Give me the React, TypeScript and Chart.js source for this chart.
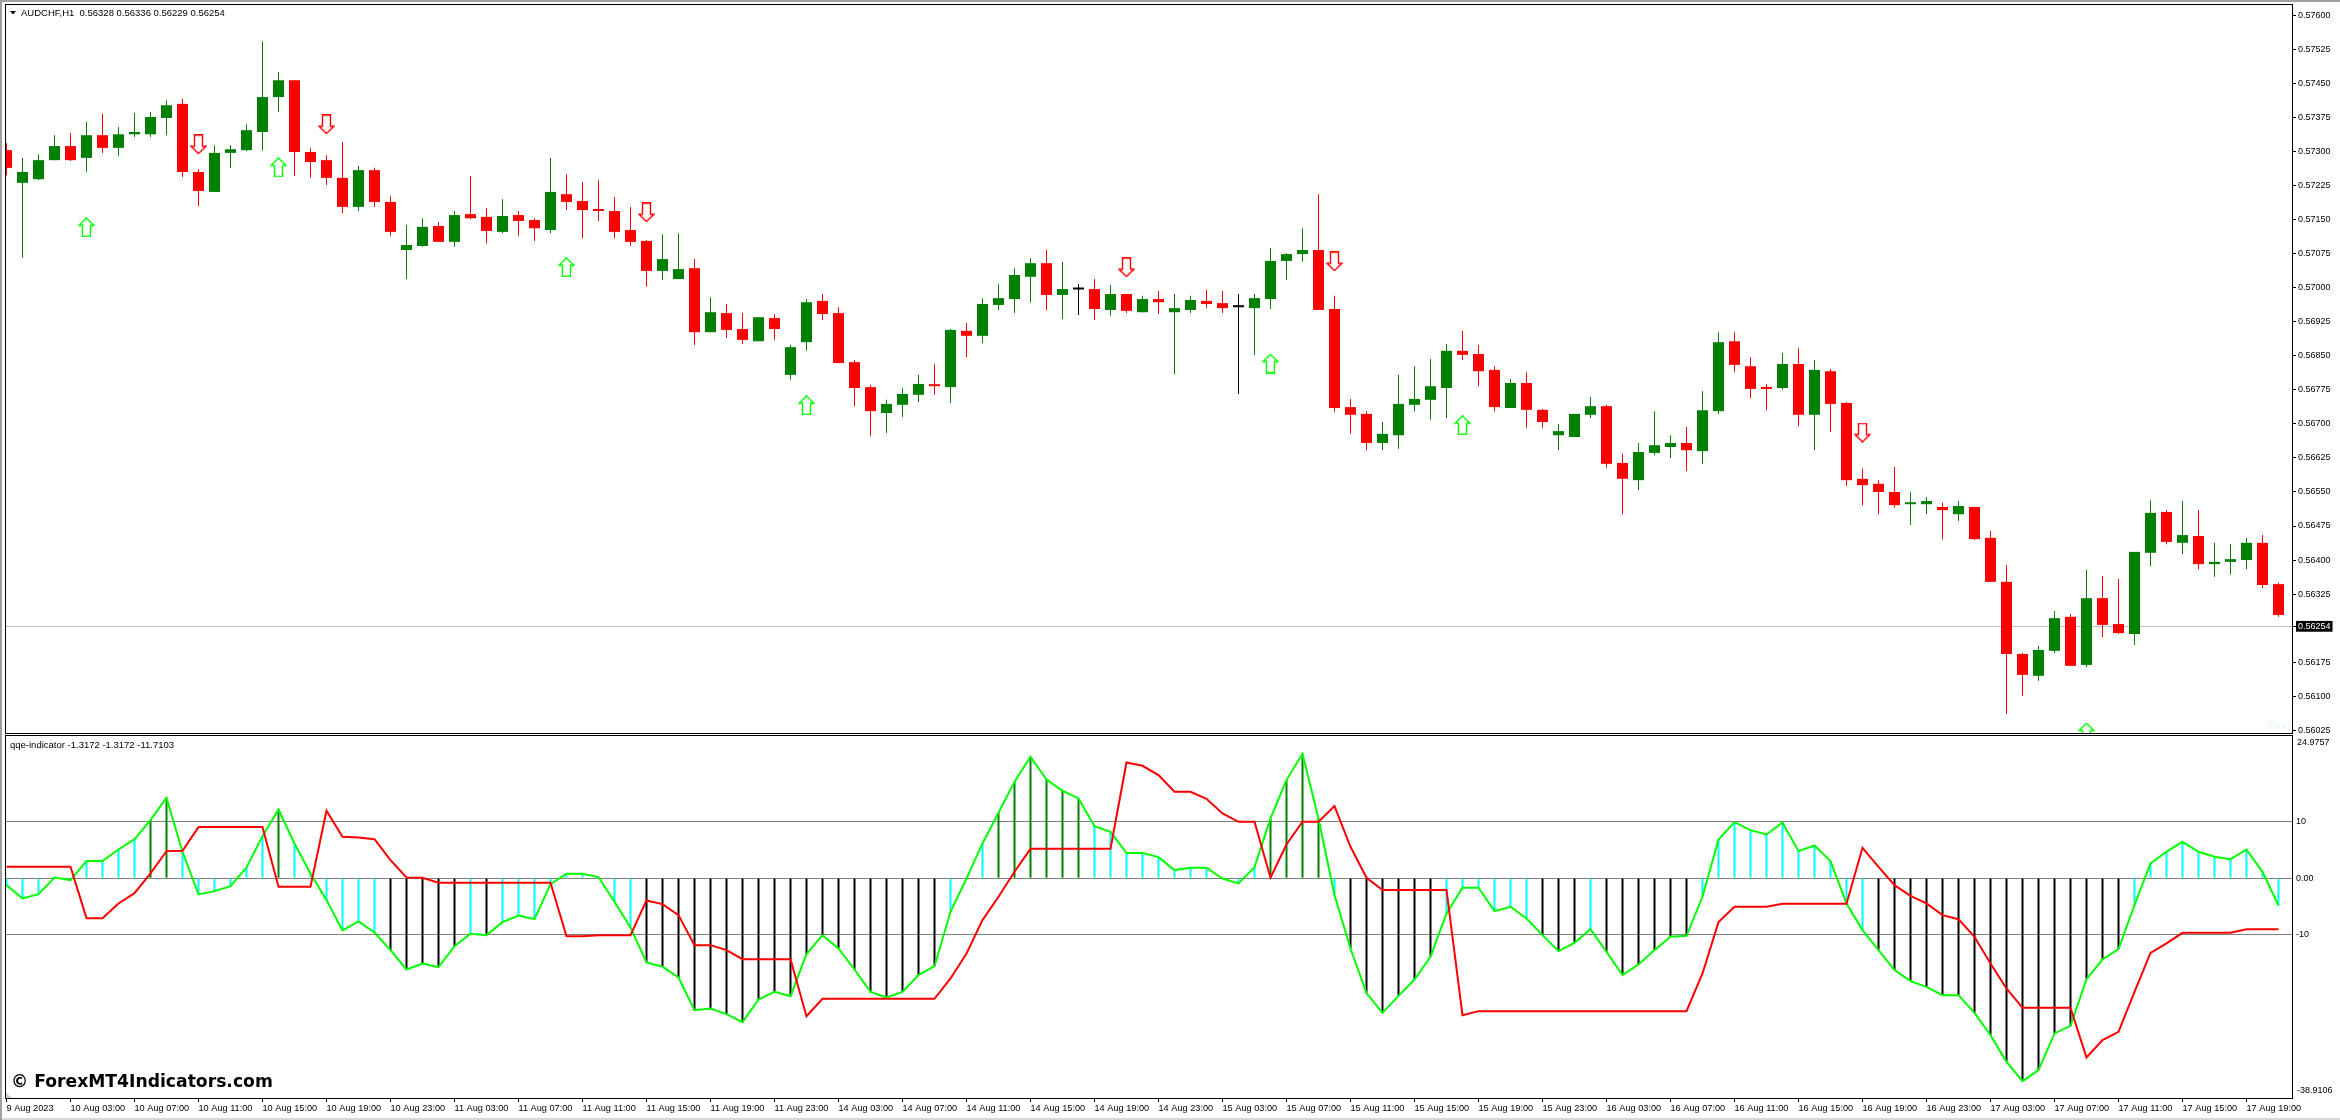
import { useEffect, useRef } from "react"
import { Chart, registerables } from "chart.js"

Chart.register(...registerables)

// AUDCHF H1 candles, one entry per bar
const open = [
  0.57303, 0.57231, 0.57239, 0.57281, 0.57312, 0.57286, 0.57336, 0.57308, 0.57338, 0.57338,
  0.57374, 0.57405, 0.57255, 0.57211, 0.57297, 0.57303, 0.57343, 0.5742, 0.57457, 0.57299,
  0.57281, 0.57242, 0.57178, 0.57259, 0.57189, 0.57083, 0.57092, 0.57136, 0.57101, 0.57162,
  0.57156, 0.57123, 0.5716, 0.57149, 0.57127, 0.57206, 0.57191, 0.57171, 0.57169, 0.57127,
  0.57103, 0.57037, 0.57019, 0.57043, 0.56902, 0.56944, 0.56909, 0.56882, 0.56933, 0.56808,
  0.5688, 0.56971, 0.56944, 0.56836, 0.56781, 0.56724, 0.56742, 0.56764, 0.56786, 0.56781,
  0.56905, 0.56894, 0.56962, 0.56975, 0.57024, 0.57054, 0.56984, 0.56996, 0.56997, 0.56951,
  0.56986, 0.56946, 0.56975, 0.56946, 0.56951, 0.56971, 0.56966, 0.56957, 0.56955, 0.56975,
  0.57059, 0.57074, 0.57083, 0.56953, 0.56737, 0.56722, 0.56658, 0.56675, 0.56742, 0.56753,
  0.56779, 0.56861, 0.56854, 0.56819, 0.56735, 0.5679, 0.56731, 0.56675, 0.56671, 0.5672,
  0.56739, 0.56614, 0.56576, 0.56636, 0.56649, 0.56658, 0.5664, 0.56728, 0.56882, 0.56827,
  0.56781, 0.56779, 0.56832, 0.5672, 0.56816, 0.56746, 0.56579, 0.56568, 0.5655, 0.56523,
  0.56523, 0.56517, 0.56501, 0.56517, 0.56449, 0.56352, 0.56193, 0.56145, 0.562, 0.56275,
  0.56169, 0.56316, 0.56259, 0.56237, 0.56416, 0.56506, 0.56438, 0.56453, 0.56391, 0.56396,
  0.564, 0.56438, 0.56347,
]
const high = [
  0.57318, 0.57286, 0.57294, 0.57336, 0.57341, 0.57365, 0.57383, 0.57354, 0.57385, 0.57387,
  0.57413, 0.57416, 0.57261, 0.57314, 0.57314, 0.5736, 0.57543, 0.57475, 0.57457, 0.57308,
  0.57292, 0.57321, 0.57268, 0.57264, 0.57202, 0.57138, 0.57153, 0.57145, 0.57169, 0.57246,
  0.57175, 0.57195, 0.57169, 0.57153, 0.57286, 0.5725, 0.57233, 0.57237, 0.572, 0.57178,
  0.57105, 0.57118, 0.5712, 0.57063, 0.56979, 0.56964, 0.56944, 0.56935, 0.56942, 0.56874,
  0.56975, 0.56986, 0.56957, 0.56841, 0.56786, 0.56753, 0.56779, 0.56808, 0.56832, 0.56909,
  0.56922, 0.56977, 0.57008, 0.57043, 0.57065, 0.57083, 0.57057, 0.57008, 0.57019, 0.57006,
  0.56986, 0.56982, 0.56993, 0.56986, 0.56982, 0.56995, 0.56993, 0.56986, 0.56986, 0.57087,
  0.57076, 0.57131, 0.57206, 0.56982, 0.56755, 0.56728, 0.56704, 0.56808, 0.56827, 0.56843,
  0.56876, 0.56905, 0.56874, 0.56827, 0.56799, 0.56814, 0.56733, 0.567, 0.56722, 0.56759,
  0.56742, 0.56634, 0.56658, 0.56728, 0.56675, 0.56693, 0.56772, 0.56902, 0.56902, 0.56847,
  0.56788, 0.56856, 0.56867, 0.56841, 0.56821, 0.56748, 0.56601, 0.56576, 0.56605, 0.5655,
  0.56539, 0.56526, 0.5653, 0.56517, 0.56464, 0.56389, 0.56195, 0.56211, 0.56288, 0.56281,
  0.56378, 0.56365, 0.56358, 0.56418, 0.56532, 0.5651, 0.5653, 0.5651, 0.56438, 0.56435,
  0.56449, 0.56455, 0.5635,
]
const low = [
  0.57248, 0.57066, 0.57237, 0.57281, 0.57279, 0.57255, 0.57297, 0.5729, 0.57332, 0.57332,
  0.57336, 0.57244, 0.5718, 0.57211, 0.57264, 0.57301, 0.57303, 0.57387, 0.57246, 0.57242,
  0.57226, 0.57164, 0.57169, 0.57178, 0.57114, 0.57019, 0.5709, 0.57101, 0.5709, 0.57151,
  0.57098, 0.5712, 0.57114, 0.57103, 0.5712, 0.57171, 0.57109, 0.57147, 0.57109, 0.57092,
  0.57002, 0.57017, 0.57019, 0.56874, 0.56902, 0.56889, 0.56876, 0.56882, 0.56885, 0.56797,
  0.56861, 0.56929, 0.56834, 0.56739, 0.56673, 0.5668, 0.56715, 0.56748, 0.56764, 0.56746,
  0.56847, 0.56878, 0.56951, 0.56944, 0.56968, 0.56951, 0.56931, 0.5694, 0.56929, 0.56938,
  0.56944, 0.56946, 0.56942, 0.5681, 0.56944, 0.56955, 0.56944, 0.56766, 0.56852, 0.56953,
  0.57017, 0.57057, 0.56951, 0.56726, 0.56678, 0.56642, 0.56642, 0.56645, 0.56728, 0.56709,
  0.56713, 0.56841, 0.56783, 0.56728, 0.56735, 0.56691, 0.56691, 0.56642, 0.56671, 0.56713,
  0.56603, 0.56501, 0.56554, 0.56631, 0.56625, 0.56596, 0.56612, 0.56722, 0.56814, 0.56757,
  0.5673, 0.56775, 0.56695, 0.56642, 0.56682, 0.56563, 0.56521, 0.56501, 0.56515, 0.56477,
  0.56501, 0.56446, 0.56486, 0.56444, 0.56352, 0.56061, 0.56101, 0.56134, 0.56195, 0.56167,
  0.56164, 0.5623, 0.56237, 0.56213, 0.56387, 0.56435, 0.56413, 0.5638, 0.56363, 0.56369,
  0.5638, 0.56338, 0.56275,
]
const close = [
  0.57264, 0.57255, 0.57281, 0.57312, 0.57281, 0.57336, 0.57308, 0.57338, 0.57343, 0.57376,
  0.57402, 0.57255, 0.57213, 0.57297, 0.57305, 0.57347, 0.5742, 0.57457, 0.57299, 0.57277,
  0.57242, 0.57178, 0.57259, 0.57189, 0.57123, 0.57094, 0.57134, 0.57101, 0.5716, 0.57153,
  0.57125, 0.57158, 0.57147, 0.57131, 0.57211, 0.57189, 0.57171, 0.57169, 0.57123, 0.57101,
  0.57037, 0.57063, 0.57041, 0.56902, 0.56946, 0.56907, 0.56885, 0.56935, 0.56909, 0.56869,
  0.56968, 0.56942, 0.56834, 0.56779, 0.56728, 0.56744, 0.56766, 0.56788, 0.56783, 0.56907,
  0.56894, 0.56964, 0.56977, 0.57028, 0.57054, 0.56984, 0.56997, 0.56996, 0.56953, 0.56986,
  0.56949, 0.56975, 0.56968, 0.56955, 0.56973, 0.56964, 0.56955, 0.56957, 0.56977, 0.57059,
  0.57074, 0.57083, 0.56951, 0.56735, 0.5672, 0.56658, 0.56678, 0.56744, 0.56755, 0.56783,
  0.56861, 0.56852, 0.56816, 0.56737, 0.5679, 0.56731, 0.56704, 0.56684, 0.56722, 0.56739,
  0.56612, 0.56579, 0.56638, 0.56653, 0.56658, 0.56642, 0.5673, 0.5688, 0.5683, 0.56777,
  0.56777, 0.56832, 0.5672, 0.56819, 0.56744, 0.56576, 0.56565, 0.5655, 0.56521, 0.56526,
  0.5653, 0.5651, 0.56519, 0.56446, 0.56352, 0.56193, 0.56147, 0.56202, 0.56272, 0.56167,
  0.56316, 0.56257, 0.56239, 0.56418, 0.56504, 0.5644, 0.56455, 0.56391, 0.56396, 0.56402,
  0.56438, 0.56345, 0.56279,
]

// Signal arrows: bar index and price
const upArrowBars = [5, 17, 35, 50, 79, 91, 130]
const upArrowPrices = [0.57133, 0.57265, 0.57045, 0.56741, 0.56833, 0.56697, 0.5602]
const downArrowBars = [12, 20, 40, 70, 83, 116]
const downArrowPrices = [0.57316, 0.5736, 0.57166, 0.57045, 0.57058, 0.56681]

// QQE pane
const fastLine = [
  -1.24, -3.6, -2.83, 0.12, -0.35, 3.01, 3.01, 5.07, 6.9, 10.27,
  14.22, 4.66, -2.89, -2.3, -1.42, 1.89, 7.43, 12.15, 6.14, 0.83,
  -3.89, -9.26, -7.67, -9.62, -12.74, -16.17, -15.1, -15.75, -12.04, -9.85,
  -10.09, -7.79, -6.61, -7.26, -1.06, 0.77, 0.77, 0.18, -4.19, -8.73,
  -14.93, -15.69, -17.58, -23.36, -23.07, -24.07, -25.49, -21.48, -20.12, -20.89,
  -13.45, -10.09, -12.45, -16.17, -20.12, -21.12, -20.12, -17.17, -15.58, -5.96,
  -0.06, 6.14, 11.56, 17.05, 21.48, 17.46, 15.46, 14.1, 9.2, 8.2,
  4.43, 4.43, 3.72, 1.42, 1.83, 1.83, -0.06, -0.94, 1.95, 10.56,
  17.35, 22.01, 10.56, -3.01, -12.45, -20.36, -23.84, -20.83, -17.94, -13.92,
  -6.25, -1.71, -1.71, -5.84, -5.07, -7.14, -10.09, -12.92, -11.45, -9.03,
  -13.04, -17.17, -15.28, -12.74, -10.38, -10.21, -3.3, 6.84, 9.91, 8.5,
  7.73, 9.85, 4.78, 5.78, 3.01, -4.48, -9.2, -12.74, -16.28, -18.23,
  -19.23, -20.71, -20.71, -23.84, -27.79, -32.51, -35.93, -33.98, -27.49, -26.14,
  -17.88, -14.4, -12.57, -4.78, 2.6, 4.66, 6.43, 4.66, 3.78, 3.36,
  5.07, 1.12, -4.84,
]
const slowLine = [
  2.01, 2.01, 2.01, 2.01, 2.01, -7.08, -7.08, -4.48, -2.66, 0.83,
  4.78, 4.84, 9.03, 9.03, 9.03, 9.03, 9.03, -1.53, -1.53, -1.53,
  11.92, 7.32, 7.2, 6.9, 3.19, 0.12, 0.06, -0.83, -0.83, -0.83,
  -0.83, -0.83, -0.83, -0.83, -0.83, -10.27, -10.27, -10.09, -10.09, -10.09,
  -3.95, -4.6, -6.55, -11.86, -11.86, -12.74, -14.34, -14.34, -14.34, -14.34,
  -24.43, -21.36, -21.36, -21.36, -21.36, -21.36, -21.36, -21.36, -21.36, -17.76,
  -13.33, -7.43, -3.3, 1.12, 5.19, 5.19, 5.19, 5.19, 5.19, 5.19,
  20.47, 19.88, 18.23, 15.28, 15.28, 14.04, 11.45, 9.97, 9.97, 0.06,
  5.96, 9.97, 9.97, 12.74, 5.55, 0.06, -2.12, -2.12, -2.12, -2.12,
  -2.12, -24.25, -23.54, -23.54, -23.54, -23.54, -23.54, -23.54, -23.54, -23.54,
  -23.54, -23.54, -23.54, -23.54, -23.54, -23.54, -16.87, -7.79, -5.07, -5.07,
  -5.07, -4.54, -4.54, -4.54, -4.54, -4.54, 5.37, 2.01, -1.24, -3.13,
  -4.48, -6.55, -7.26, -10.38, -15.1, -19.53, -22.95, -22.95, -22.95, -22.95,
  -31.74, -28.67, -27.2, -20.12, -13.22, -11.56, -9.68, -9.68, -9.68, -9.68,
  -9.03, -9.03, -9.03,
]
// histogram colour per bar: c = cyan, b = black, g = dark green
const histKinds = (
  "ccccccccc" + "gg" + "cccccc" + "g" + "cccccc" + "bbbbb" + "c" + "b" + "ccccccccc" +
  "bbbbbbbbbbbbbbbbbbb" + "ccc" + "gggggg" + "ccccccccccc" + "gggg" + "c" + "bbbbbb" +
  "cccccc" + "bbb" + "c" + "bbbbbb" + "ccccccccccc" + "bbbbbbbbbbbbbbbb" + "cccccccccc"
).split("")

// Axes
const priceTicks = [
  0.576, 0.57525, 0.5745, 0.57375, 0.573, 0.57225, 0.5715, 0.57075, 0.57, 0.56925, 0.5685, 0.56775,
  0.567, 0.56625, 0.5655, 0.56475, 0.564, 0.56325, 0.56254, 0.56175, 0.561, 0.56025,
]
const currentPrice = 0.56254
const indicatorLevels = [10, 0, -10]
const timeLabels = [
  "9 Aug 2023", "10 Aug 03:00", "10 Aug 07:00", "10 Aug 11:00", "10 Aug 15:00", "10 Aug 19:00",
  "10 Aug 23:00", "11 Aug 03:00", "11 Aug 07:00", "11 Aug 11:00", "11 Aug 15:00", "11 Aug 19:00",
  "11 Aug 23:00", "14 Aug 03:00", "14 Aug 07:00", "14 Aug 11:00", "14 Aug 15:00", "14 Aug 19:00",
  "14 Aug 23:00", "15 Aug 03:00", "15 Aug 07:00", "15 Aug 11:00", "15 Aug 15:00", "15 Aug 19:00",
  "15 Aug 23:00", "16 Aug 03:00", "16 Aug 07:00", "16 Aug 11:00", "16 Aug 15:00", "16 Aug 19:00",
  "16 Aug 23:00", "17 Aug 03:00", "17 Aug 07:00", "17 Aug 11:00", "17 Aug 15:00", "17 Aug 19:00",
]
const BARS_PER_LABEL = 4
const FONT = "'Liberation Sans', Arial, sans-serif"

// one bar takes 16px, first bar centre sits 1.5px right of the plot's left edge
const xMin = -0.09375
const xMax = 142.90625

function zeroPadding(scale: any) {
  scale.paddingTop = 0
  scale.paddingBottom = 0
  scale.paddingLeft = 0
  scale.paddingRight = 0
}

const framePlugin = {
  id: "frame",
  afterDraw(chart: any) {
    const { ctx, chartArea: a } = chart
    ctx.save()
    ctx.strokeStyle = "#000"
    ctx.lineWidth = 1
    ctx.strokeRect(a.left + 0.5, a.top + 0.5, a.right - a.left - 1, a.bottom - a.top)
    ctx.restore()
  },
}

const priceTextPlugin = {
  id: "priceText",
  afterDraw(chart: any) {
    const { ctx } = chart
    ctx.save()
    ctx.fillStyle = "#000"
    ctx.beginPath()
    ctx.moveTo(10, 11)
    ctx.lineTo(16, 11)
    ctx.lineTo(13, 14.5)
    ctx.fill()
    ctx.font = `9.5px ${FONT}`
    ctx.textBaseline = "middle"
    ctx.fillText("AUDCHF,H1  0.56328 0.56336 0.56229 0.56254", 21, 13)
    ctx.fillStyle = "#eaf7ff"
    ctx.font = `14px ${FONT}`
    ctx.fillText("Text", 2266, 727)
    ctx.restore()
  },
}

const indicatorTextPlugin = {
  id: "indicatorText",
  afterDraw(chart: any) {
    const { ctx, chartArea: a } = chart
    ctx.save()
    ctx.fillStyle = "#000"
    ctx.textBaseline = "middle"
    ctx.font = `9.5px ${FONT}`
    ctx.fillText("qqe-indicator -1.3172 -1.3172 -11.7103", 10, 10)
    ctx.font = `9px ${FONT}`
    ctx.fillText("24.9757", a.right + 4, a.top + 8)
    ctx.fillText("-38.9106", a.right + 4, a.bottom - 7)
    ctx.font = `bold 17.2px 'DejaVu Sans', sans-serif`
    ctx.fillText("© ForexMT4Indicators.com", 11, 348)
    ctx.fillStyle = "#c8c8c8"
    ctx.beginPath()
    ctx.moveTo(a.left + 1, a.bottom - 5)
    ctx.lineTo(a.left + 7, a.bottom)
    ctx.lineTo(a.left + 1, a.bottom)
    ctx.fill()
    ctx.restore()
  },
}

function makeArrow(direction: "up" | "down", stroke: string) {
  const c = document.createElement("canvas")
  c.width = 17
  c.height = 20
  const g = c.getContext("2d")!
  if (direction === "down") {
    g.translate(0, 20)
    g.scale(1, -1)
  }
  g.beginPath()
  g.moveTo(8.5, 0.7)
  g.lineTo(16, 8)
  g.lineTo(12.5, 8)
  g.lineTo(12.5, 19.3)
  g.lineTo(4.5, 19.3)
  g.lineTo(4.5, 8)
  g.lineTo(1, 8)
  g.closePath()
  g.fillStyle = "#fff"
  g.fill()
  g.strokeStyle = stroke
  g.lineWidth = 1.4
  g.stroke()
  return c
}

const candleColor = (i: number) => {
  if (open[i] === close[i]) return "#000000"
  return close[i] > open[i] ? "#008000" : "#ff0000"
}
const histColors: Record<string, string> = { c: "#00ffff", b: "#000000", g: "#008000" }

export default function App() {
  const priceRef = useRef<HTMLCanvasElement>(null)
  const indicatorRef = useRef<HTMLCanvasElement>(null)

  useEffect(() => {
    if (!priceRef.current || !indicatorRef.current) return

    const barColors = open.map((_, i) => candleColor(i))

    const priceChart = new Chart(priceRef.current, {
      type: "bar",
      plugins: [framePlugin, priceTextPlugin],
      data: {
        datasets: [
          {
            type: "scatter",
            data: upArrowBars.map((x, i) => ({ x, y: upArrowPrices[i] })),
            pointStyle: makeArrow("up", "#00ff00"),
            order: 0,
          },
          {
            type: "scatter",
            data: downArrowBars.map((x, i) => ({ x, y: downArrowPrices[i] })),
            pointStyle: makeArrow("down", "#ff0000"),
            order: 0,
          },
          {
            data: open.map((o, i) => ({ x: i, y: [o, close[i]] })),
            backgroundColor: barColors,
            barThickness: 11,
            minBarLength: 2,
            grouped: false,
            inflateAmount: 0,
            borderWidth: 0,
            order: 1,
          },
          {
            data: low.map((l, i) => ({ x: i, y: [l, high[i]] })),
            backgroundColor: barColors,
            barThickness: 1,
            grouped: false,
            inflateAmount: 0,
            borderWidth: 0,
            order: 2,
          },
        ],
      } as any,
      options: {
        responsive: false,
        animation: false,
        devicePixelRatio: 1,
        layout: { autoPadding: false, padding: { left: 5, top: 4, right: 0, bottom: 2 } },
        plugins: { legend: { display: false }, tooltip: { enabled: false } },
        scales: {
          x: { type: "linear", display: false, min: xMin, max: xMax, offset: false, bounds: "data" },
          y: {
            type: "linear",
            position: "right",
            min: 0.56019,
            max: 0.57625,
            bounds: "data",
            border: { display: false },
            afterBuildTicks: (axis: any) => {
              axis.ticks = priceTicks.map((value) => ({ value }))
            },
            afterFit: (scale: any) => {
              scale.width = 47
              zeroPadding(scale)
            },
            grid: {
              color: (ctx: any) => (ctx.tick?.value === currentPrice ? "#c0c0c0" : "transparent"),
              tickColor: "#000",
              tickLength: 3,
            },
            ticks: {
              autoSkip: false,
              padding: 2,
              font: { family: FONT, size: 9 },
              color: (ctx: any) => (ctx.tick?.value === currentPrice ? "#fff" : "#000"),
              showLabelBackdrop: (ctx: any) => ctx.tick?.value === currentPrice,
              backdropColor: "#000",
              backdropPadding: { x: 2, y: 0 },
              callback: (value: any) => Number(value).toFixed(5),
            },
          },
        },
      } as any,
    })

    const indicatorChart = new Chart(indicatorRef.current, {
      type: "bar",
      plugins: [framePlugin, indicatorTextPlugin],
      data: {
        datasets: [
          {
            type: "line",
            data: slowLine.map((y, x) => ({ x, y })),
            borderColor: "#ff0000",
            borderWidth: 2,
            pointRadius: 0,
            order: 0,
          },
          {
            type: "line",
            data: fastLine.map((y, x) => ({ x, y })),
            borderColor: "#00ff00",
            borderWidth: 2,
            pointRadius: 0,
            order: 1,
          },
          {
            data: fastLine.map((y, x) => ({ x, y })),
            backgroundColor: histKinds.map((k) => histColors[k]),
            barThickness: 2,
            grouped: false,
            inflateAmount: 0,
            borderWidth: 0,
            order: 2,
          },
        ],
      } as any,
      options: {
        responsive: false,
        animation: false,
        devicePixelRatio: 1,
        layout: { autoPadding: false, padding: { left: 5, top: 0, right: 0, bottom: 0 } },
        plugins: { legend: { display: false }, tooltip: { enabled: false } },
        scales: {
          x: {
            type: "linear",
            min: xMin,
            max: xMax,
            offset: false,
            bounds: "data",
            border: { display: false },
            afterBuildTicks: (axis: any) => {
              axis.ticks = timeLabels.map((_, i) => ({ value: i * BARS_PER_LABEL }))
            },
            afterFit: (scale: any) => {
              scale.height = 22
              zeroPadding(scale)
            },
            grid: { drawOnChartArea: false, offset: false, tickColor: "#000", tickLength: 4 },
            ticks: {
              autoSkip: false,
              maxRotation: 0,
              align: "start",
              padding: 1,
              font: { family: FONT, size: 9.2 },
              color: "#000",
              callback: (value: any) => timeLabels[Number(value) / BARS_PER_LABEL],
            },
          },
          y: {
            type: "linear",
            position: "right",
            min: -38.91,
            max: 25.33,
            bounds: "data",
            border: { display: false },
            afterBuildTicks: (axis: any) => {
              axis.ticks = indicatorLevels.map((value) => ({ value }))
            },
            afterFit: (scale: any) => {
              scale.width = 47
              zeroPadding(scale)
            },
            grid: { color: "#808080", drawTicks: false },
            ticks: {
              autoSkip: false,
              padding: 3,
              font: { family: FONT, size: 9 },
              color: "#000",
              callback: (value: any) => (value === 0 ? "0.00" : String(value)),
            },
          },
        },
      } as any,
    })

    return () => {
      priceChart.destroy()
      indicatorChart.destroy()
    }
  }, [])

  return (
    <div
      style={{
        position: "fixed",
        left: 0,
        top: 0,
        width: 2340,
        height: 1120,
        background: "#fff",
        boxShadow: "inset 2px 2px 0 #a0a0a0, inset 0 -2px 0 #d8d8d8",
        overflow: "hidden",
      }}
    >
      <canvas ref={priceRef} width={2340} height={735} style={{ position: "absolute", left: 0, top: 0 }} />
      <canvas ref={indicatorRef} width={2340} height={385} style={{ position: "absolute", left: 0, top: 735 }} />
    </div>
  )
}
